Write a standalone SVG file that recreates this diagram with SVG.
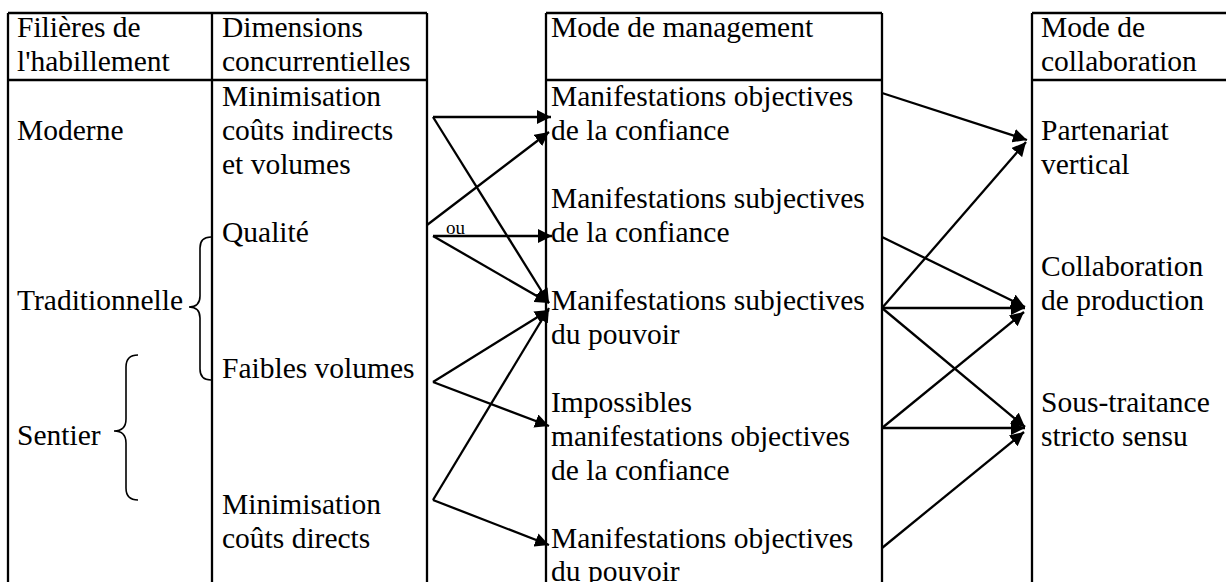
<svg xmlns="http://www.w3.org/2000/svg" width="1226" height="582" viewBox="0 0 1226 582" font-family="Liberation Serif, Times New Roman, serif">
<style>
.t{font-size:29.5px;fill:#000}
.ou{font-size:19px;fill:#000}
.b{stroke:#000;stroke-width:2.3;fill:none}
.c{stroke:#000;stroke-width:2.3;fill:none;marker-end:url(#ah)}
.br{stroke:#000;stroke-width:1.6;fill:none}
</style>
<defs>
<marker id="ah" markerUnits="userSpaceOnUse" markerWidth="15" markerHeight="14" refX="14" refY="7" orient="auto" viewBox="0 0 15 14">
<path d="M0,0 L14,7 L0,14 z" fill="#000"/>
</marker>
</defs>
<rect width="1226" height="582" fill="#fff"/>
<g id="frames">
<path class="b" d="M8,13H427M8,80H427M8,13V582M212,13V582M427,13V582"/>
<path class="b" d="M546,13H882M546,80H882M546,13V582M882,13V582"/>
<path class="b" d="M1032,13H1226M1032,80H1226M1032,13V582"/>
</g>
<g id="col1" class="t">
<text x="17" y="37">Filières de</text>
<text x="17" y="71">l'habillement</text>
<g id="moderne"><text x="17" y="140">Moderne</text></g>
<g id="traditionnelle"><text x="17" y="310">Traditionnelle</text>
<path class="br" d="M211,237 Q200,237 200,248 L200,296 Q200,307 189,307 Q200,307 200,318 L200,369 Q200,380 211,380"/></g>
<g id="sentier"><text x="17" y="445">Sentier</text>
<path class="br" d="M138,355 Q126,355 126,367 L126,419 Q126,431 114,431 Q126,431 126,443 L126,488 Q126,500 138,500"/></g>
</g>
<g id="col2" class="t">
<text x="222" y="37">Dimensions</text>
<text x="222" y="71">concurrentielles</text>
<g id="min-indirects"><text x="222" y="106">Minimisation</text><text x="222" y="140">coûts indirects</text><text x="222" y="174">et volumes</text></g>
<g id="qualite"><text x="222" y="242">Qualité</text></g>
<g id="faibles"><text x="222" y="378">Faibles volumes</text></g>
<g id="min-directs"><text x="222" y="514">Minimisation</text><text x="222" y="548">coûts directs</text></g>
</g>
<g id="col3" class="t">
<text x="551" y="37">Mode de management</text>
<g id="m1"><text x="551" y="106">Manifestations objectives</text><text x="551" y="140">de la confiance</text></g>
<g id="m2"><text x="551" y="208">Manifestations subjectives</text><text x="551" y="242">de la confiance</text></g>
<g id="m3"><text x="551" y="310">Manifestations subjectives</text><text x="551" y="344">du pouvoir</text></g>
<g id="m4"><text x="551" y="412">Impossibles</text><text x="551" y="446">manifestations objectives</text><text x="551" y="480">de la confiance</text></g>
<g id="m5"><text x="551" y="548">Manifestations objectives</text><text x="551" y="581">du pouvoir</text></g>
</g>
<g id="col4" class="t">
<text x="1041" y="37">Mode de</text>
<text x="1041" y="71">collaboration</text>
<g id="partenariat"><text x="1041" y="140">Partenariat</text><text x="1041" y="174">vertical</text></g>
<g id="collab"><text x="1041" y="276">Collaboration</text><text x="1041" y="310">de production</text></g>
<g id="sous"><text x="1041" y="412">Sous-traitance</text><text x="1041" y="446">stricto sensu</text></g>
</g>
<g id="connectors">
<path class="c" d="M433,117H551"/>
<path class="c" d="M427,225L549,132"/>
<path class="c" d="M433,117L549,303"/>
<path class="c" d="M433,236H552"/>
<path class="c" d="M433,236L549,303"/>
<path class="c" d="M433,382L549,310"/>
<path class="c" d="M433,382L549,426"/>
<path class="c" d="M433,500L549,308"/>
<path class="c" d="M433,500L549,545"/>
<path class="c" d="M882,93L1027,140"/>
<path class="c" d="M882,308L1026,142"/>
<path class="c" d="M882,237L1025,307"/>
<path class="c" d="M882,308H1025"/>
<path class="c" d="M882,428L1024,312"/>
<path class="c" d="M882,308L1025,427"/>
<path class="c" d="M882,428H1025"/>
<path class="c" d="M882,548L1024,432"/>
<text class="ou" x="446" y="234">ou</text>
</g>
</svg>
